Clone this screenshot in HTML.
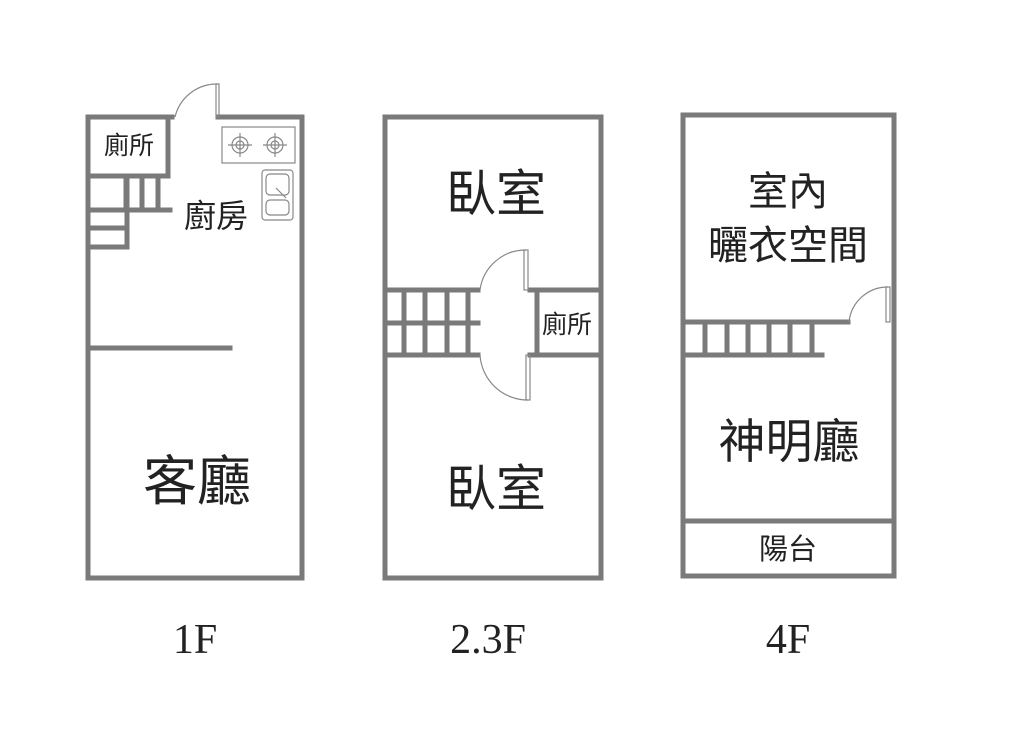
<!DOCTYPE html>
<html><head><meta charset="utf-8">
<style>
html,body{margin:0;padding:0;background:#fff;}
svg{display:block;}
text{font-family:"Liberation Sans","Noto Sans CJK TC",sans-serif;fill:#222;text-anchor:middle;}
.f{font-family:"Liberation Serif",serif;fill:#222;}
</style></head><body>
<svg width="1024" height="739" viewBox="0 0 1024 739" xmlns="http://www.w3.org/2000/svg">
<g stroke="#7a7a7a" stroke-width="5" fill="none" stroke-linecap="square">
<path d="M172 117 H88 V578 H302 V117 H218"/>
<path d="M88 176 H168 V117"/>
<path d="M126 178 V210 M142 178 V210 M158 178 V210"/>
<path d="M88 210 H170 M88 228 H127 M88 247 H127 M127 178 V247"/>
<path d="M88 348 H230"/>
<rect x="385" y="117" width="216" height="461"/>
<path d="M385 290 H478 M385 323 H478 M385 355 H478"/>
<path d="M404 290 V355 M425 290 V355 M447 290 V355 M468 290 V355"/>
<path d="M530 290 H601 M537 290 V355 M530 355 H601"/>
<rect x="683" y="115" width="211" height="461"/>
<path d="M683 322 H848 M683 355 H822"/>
<path d="M705 322 V355 M727 322 V355 M748 322 V355 M769 322 V355 M790 322 V355 M812 322 V355"/>
<path d="M683 521 H894"/>
</g>
<g stroke="#888" stroke-width="1.2" fill="none">
<path d="M175 117 A43 43 0 0 1 218 84"/>
<rect x="216" y="84" width="3" height="33"/>
<path d="M480 290 A46 46 0 0 1 526 250"/>
<rect x="524" y="250" width="4" height="40"/>
<path d="M480 355 A48 48 0 0 0 528 400"/>
<rect x="526" y="355" width="4" height="45"/>
<path d="M849 322 A39 39 0 0 1 888 287"/>
<rect x="886" y="287" width="4" height="35"/>
</g>
<g stroke="#888" stroke-width="1.2" fill="none">
<rect x="222" y="127" width="73" height="36"/>
<circle cx="240" cy="145" r="8"/><circle cx="240" cy="145" r="4"/>
<path d="M228 145 H252 M240 133 V157"/>
<circle cx="275" cy="145" r="8"/><circle cx="275" cy="145" r="4"/>
<path d="M263 145 H287 M275 133 V157"/>
<rect x="262" y="170" width="31" height="50" rx="3"/>
<rect x="266" y="174" width="23" height="21" rx="4"/>
<rect x="266" y="200" width="23" height="15" rx="4"/>
<path d="M276 188 L286 198"/>
</g>
<text x="129" y="154" font-size="25">廁所</text>
<text x="216" y="227" font-size="32">廚房</text>
<text x="197" y="500" font-size="54">客廳</text>
<text x="496" y="211" font-size="50">臥室</text>
<text x="567" y="333" font-size="25">廁所</text>
<text x="496" y="506" font-size="50">臥室</text>
<text x="788" y="205" font-size="40">室內</text>
<text x="788" y="259" font-size="40">曬衣空間</text>
<text x="789" y="458" font-size="47">神明廳</text>
<text x="788" y="559" font-size="29">陽台</text>
<text class="f" x="195" y="653" font-size="42">1F</text>
<text class="f" x="488" y="653" font-size="42">2.3F</text>
<text class="f" x="788" y="653" font-size="42">4F</text>
</svg>
</body></html>
